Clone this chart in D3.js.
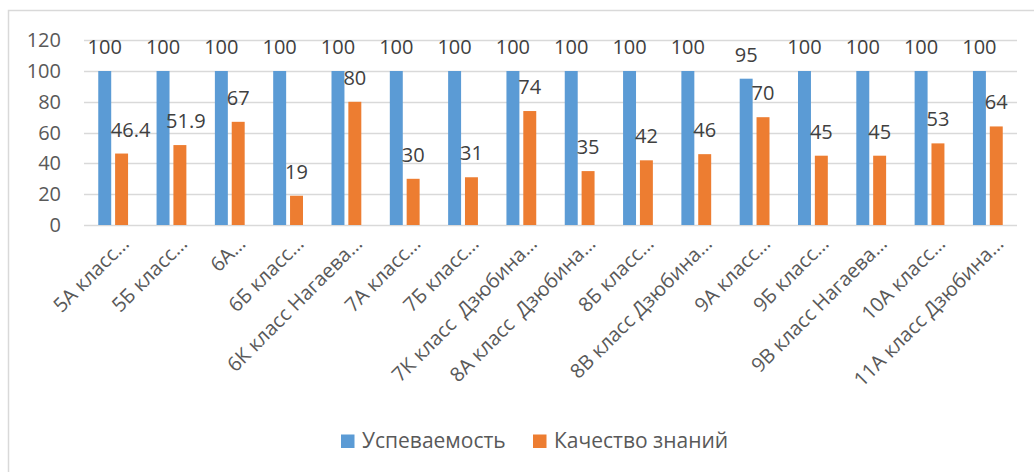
<!DOCTYPE html>
<html>
<head>
<meta charset="utf-8">
<script src="https://cdn.jsdelivr.net/npm/d3@7"></script>
<style>
  body { margin: 0; background: #fff; }
  text { font-family: "Open Sans", sans-serif; }
  .cat { white-space: pre; }
</style>
</head>
<body>
<svg width="1034" height="472"></svg>
<script>
// chart data
const classes = [
  "5А класс…", "5Б класс…", "6А…", "6Б класс…", "6К класс Нагаева…",
  "7А класс…", "7Б класс…", "7К класс  Дзюбина…", "8А класс  Дзюбина…",
  "8Б класс…", "8В класс Дзюбина…", "9А класс…", "9Б класс…",
  "9В класс Нагаева…", "10А класс…", "11А класс Дзюбина…"
];
const uspevaemost = [100, 100, 100, 100, 100, 100, 100, 100, 100, 100, 100, 95, 100, 100, 100, 100];
const kachestvo = [46.4, 51.9, 67, 19, 80, 30, 31, 74, 35, 42, 46, 70, 45, 45, 53, 64];
const yTicks = [0, 20, 40, 60, 80, 100, 120];
const seriesNames = ["Успеваемость", "Качество знаний"];
const colors = ["#5B9BD5", "#ED7D31"];

// a couple of orange labels were dragged sideways in the original
const labelNudge = [9, 6, 0, 0, 0, 0, 0, 0, 0, 0, 0, 0, 0, 0, 0, 0];

const svg = d3.select("svg"),
  width = +svg.attr("width"),
  height = +svg.attr("height");

// chart frame (only top and left edges are visible in the picture)
svg.append("rect")
  .attr("x", 8.5).attr("y", 10.5)
  .attr("width", width + 20).attr("height", height + 20)
  .attr("fill", "none")
  .attr("stroke", "#D9D9D9")
  .attr("stroke-width", 1.5);

const x = d3.scaleBand()
  .domain(d3.range(classes.length))
  .range([84, 1017]);

const y = d3.scaleLinear()
  .domain([0, 120])
  .range([225, 40.2]);

const step = x.bandwidth(),
  bw = step / 4.5,          // gap width 220%, overlap -30%
  gap = bw * 0.3;

// gridlines
svg.append("g")
  .selectAll("line")
  .data(yTicks)
  .enter().append("line")
  .attr("x1", 84).attr("x2", 1017)
  .attr("y1", d => Math.round(y(d)) + 0.5)
  .attr("y2", d => Math.round(y(d)) + 0.5)
  .attr("stroke", "#D9D9D9")
  .attr("stroke-width", 1.5);

// y axis labels
svg.append("g")
  .selectAll("text")
  .data(yTicks)
  .enter().append("text")
  .attr("x", 61)
  .attr("y", d => y(d))
  .attr("dy", "0.35em")
  .attr("text-anchor", "end")
  .attr("font-size", 20)
  .attr("fill", "#595959")
  .text(d => d);

const series = [uspevaemost, kachestvo];

series.forEach((vals, s) => {
  const g = svg.append("g");
  const bx = i => x(i) + step / 2 - (bw + gap / 2) + s * (bw + gap);

  g.selectAll("rect")
    .data(vals)
    .enter().append("rect")
    .attr("x", (d, i) => bx(i))
    .attr("y", d => y(d))
    .attr("width", bw)
    .attr("height", d => y(0) - y(d))
    .attr("fill", colors[s]);

  g.selectAll("text")
    .data(vals)
    .enter().append("text")
    .attr("x", (d, i) => bx(i) + bw / 2 + (s === 1 ? labelNudge[i] : 0))
    .attr("y", d => y(d) - 17)
    .attr("text-anchor", "middle")
    .attr("font-size", 20)
    .attr("fill", "#404040")
    .text(d => d);
});

// category labels, rotated
svg.append("g")
  .selectAll("text")
  .data(classes)
  .enter().append("text")
  .attr("class", "cat")
  .attr("transform", (d, i) => "translate(" + (x(i) + step / 2 + 17) + ",245) rotate(-45)")
  .attr("text-anchor", "end")
  .attr("font-size", 20)
  .attr("fill", "#595959")
  .text(d => d);

// legend
const legendX = [341, 533];
const legend = svg.append("g");
seriesNames.forEach((name, s) => {
  legend.append("rect")
    .attr("x", legendX[s]).attr("y", 434.5)
    .attr("width", 13.5).attr("height", 13.5)
    .attr("fill", colors[s]);
  legend.append("text")
    .attr("x", legendX[s] + 21)
    .attr("y", 448)
    .attr("font-size", 21)
    .attr("fill", "#595959")
    .text(name);
});
</script>
</body>
</html>
